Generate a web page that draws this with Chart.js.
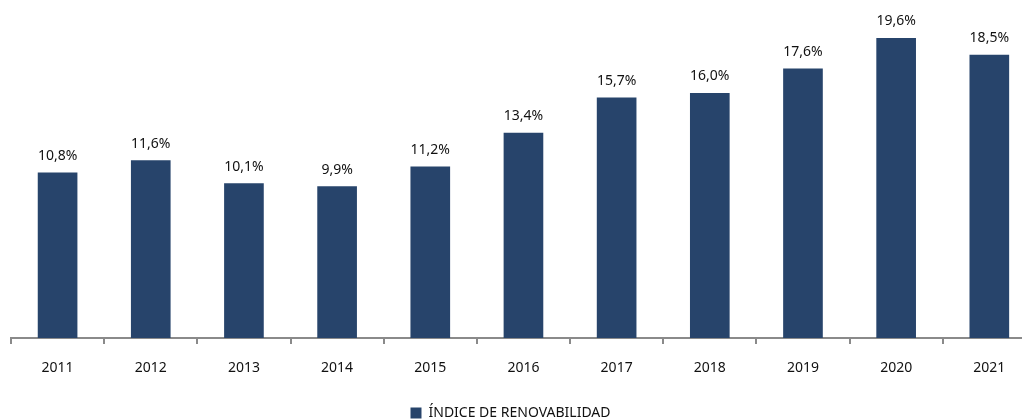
<!DOCTYPE html>
<html>
<head>
<meta charset="utf-8">
<script src="https://cdn.jsdelivr.net/npm/chart.js@4/dist/chart.umd.min.js"></script>
<style>
html,body{margin:0;padding:0;background:#fff;overflow:hidden;}
#wrap{width:1025px;height:420px;position:relative;}
</style>
</head>
<body>
<div id="wrap"><canvas id="c" width="1025" height="420"></canvas></div>
<script>
const categories = ['2011','2012','2013','2014','2015','2016','2017','2018','2019','2020','2021'];
const values = [10.8, 11.6, 10.1, 9.9, 11.2, 13.4, 15.7, 16.0, 17.6, 19.6, 18.5];
const seriesName = 'ÍNDICE DE RENOVABILIDAD';

const FONT = '"Noto Sans", sans-serif';
const BAR = '#27446B';

const valueLabels = {
  id: 'valueLabels',
  afterDatasetsDraw(chart) {
    const ctx = chart.ctx;
    const meta = chart.getDatasetMeta(0);
    ctx.save();
    ctx.font = '14px ' + FONT;
    ctx.fillStyle = '#111';
    ctx.textAlign = 'center';
    ctx.textBaseline = 'middle';
    meta.data.forEach((bar, i) => {
      const txt = values[i].toFixed(1).replace('.', ',') + '%';
      ctx.fillText(txt, bar.x, bar.y - 17);
    });
    ctx.restore();
  }
};

new Chart(document.getElementById('c'), {
  type: 'bar',
  data: {
    datasets: [{
      label: seriesName,
      data: values.map((v, i) => ({x: i, y: v})),
      backgroundColor: BAR,
      borderWidth: 0,
      barThickness: 39
    }]
  },
  options: {
    responsive: false,
    devicePixelRatio: 1,
    animation: false,
    layout: {padding: {top: 0, left: 0, right: 4, bottom: -10}},
    plugins: {
      tooltip: {enabled: false},
      legend: {
        position: 'bottom',
        labels: {
          boxWidth: 11, boxHeight: 11, color: '#111',
          font: {family: FONT, size: 14}, padding: 4
        }
      }
    },
    scales: {
      x: {
        type: 'linear',
        offset: false,
        min: -0.5,
        max: 10.34,
        afterBuildTicks(axis) {
          axis.ticks = categories.map((_, i) => ({value: i}));
        },
        afterFit(axis) { axis.height = 64; },
        grid: {
          display: true, offset: true, drawOnChartArea: false,
          drawTicks: true, tickLength: 6, color: '#8a8a8a', lineWidth: 2
        },
        border: {display: true, color: '#8a8a8a', width: 2},
        ticks: {
          color: '#111', font: {family: FONT, size: 14}, padding: 16,
          maxRotation: 0, autoSkip: false,
          callback: (v) => categories[v]
        }
      },
      y: {
        min: 0, max: 22.1,
        afterFit(axis) { axis.width = 11; },
        grid: {display: false},
        border: {display: false},
        ticks: {display: false}
      }
    }
  },
  plugins: [valueLabels]
});
</script>
</body>
</html>
